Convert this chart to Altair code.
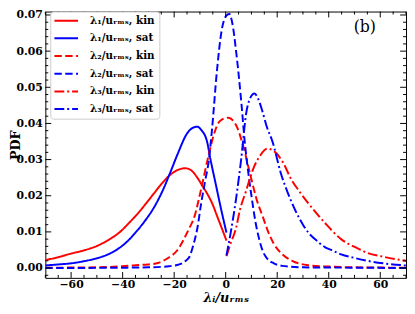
import altair as alt
import pandas as pd

# ---------------- data ----------------
SERIES = ["λ₁/uᵣₘₛ, kin", "λ₁/uᵣₘₛ, sat", "λ₂/uᵣₘₛ, kin",
          "λ₂/uᵣₘₛ, sat", "λ₃/uᵣₘₛ, kin", "λ₃/uᵣₘₛ, sat"]

L1_KIN_X = [-70, -65, -60, -55, -50, -45, -41, -37.5, -34, -31, -28, -25, -22, -19,
            -15.6, -13, -11, -9, -7.2, -5, -3.4, -1.5, 0.3]
L1_KIN_Y = [0.0022, 0.0030, 0.0040, 0.0049, 0.0061, 0.0080, 0.0100, 0.0125, 0.0152,
            0.0178, 0.0205, 0.0232, 0.0255, 0.0270, 0.0276, 0.0268, 0.0250, 0.0227,
            0.0206, 0.0175, 0.0145, 0.0110, 0.0076]

L1_SAT_X = [-70, -65, -60, -55, -50, -45, -41, -38, -35.4, -31.6, -27.8, -24.6, -21.3,
            -18.5, -15, -13, -11, -9.5, -7.2, -6, -4, -2, 0.3]
L1_SAT_Y = [0.0007, 0.0010, 0.0013, 0.0019, 0.0027, 0.0040, 0.0057, 0.0075, 0.0095,
            0.0128, 0.0168, 0.0212, 0.0268, 0.0318, 0.0372, 0.0387, 0.0391, 0.0382,
            0.0349, 0.0304, 0.0237, 0.0170, 0.0098]

L2_KIN_X = [-70, -50, -40, -35, -30, -26.3, -22.5, -18.7, -14.5, -12, -9.8, -6.6, -4.7,
            -2.2, 1, 4.2, 6.7, 10, 12, 14.5, 16.5, 18.7, 22, 25.8, 32, 40, 50, 70]
L2_KIN_Y = [0.0001, 0.0002, 0.0005, 0.0008, 0.0010, 0.0014, 0.0027, 0.0050, 0.0105,
            0.0145, 0.0210, 0.0313, 0.0367, 0.0407, 0.0416, 0.0393, 0.0340, 0.0245,
            0.0190, 0.0140, 0.0100, 0.0067, 0.0038, 0.0020, 0.0008, 0.0004, 0.0002,
            0.0001]

L2_SAT_X = [-70, -40, -30, -22, -18, -15.5, -14, -12.5, -11, -9.5, -8, -6.6, -5.3, -3.4,
            -1.5, 0.5, 1.4, 2.5, 4.2, 6.1, 7.4, 8.5, 10, 11.5, 13, 14.5, 16, 18.7, 22,
            30, 50, 70]
L2_SAT_Y = [0.0, 0.0001, 0.0002, 0.0005, 0.0010, 0.0020, 0.0032, 0.0065, 0.0110, 0.0180,
            0.0240, 0.0295, 0.0384, 0.0545, 0.0660, 0.0700, 0.0703, 0.0680, 0.0590,
            0.0456, 0.0349, 0.0280, 0.0200, 0.0130, 0.0080, 0.0045, 0.0027, 0.0013,
            0.0006, 0.0002, 0.0001, 0.0]

L3_KIN_X = [0.3, 2, 4, 5.5, 8, 9.5, 11, 13.1, 16.2, 19, 22, 25.8, 28.3, 32.1, 38.5,
            44.8, 51, 55, 61.3, 70]
L3_KIN_Y = [0.0033, 0.0070, 0.0110, 0.0160, 0.0215, 0.0250, 0.0280, 0.0308, 0.0330,
            0.0322, 0.0295, 0.0241, 0.0215, 0.0179, 0.0125, 0.0080, 0.0055, 0.0042,
            0.0031, 0.0020]

L3_SAT_X = [0.3, 2, 4, 6, 8, 9.5, 11.2, 12.5, 14.4, 16, 18.2, 21.5, 24, 27, 30, 32.1,
            35, 38.5, 41, 44.8, 50, 55, 61.3, 70]
L3_SAT_Y = [0.0035, 0.0100, 0.0190, 0.0300, 0.0430, 0.0470, 0.0483, 0.0470, 0.0430,
            0.0390, 0.0349, 0.0260, 0.0210, 0.0160, 0.0120, 0.0098, 0.0078, 0.0058,
            0.0050, 0.0038, 0.0028, 0.0020, 0.0013, 0.0007]

X_MAJOR = [-60, -40, -20, 0, 20, 40, 60]
X_MINOR = [-70, -65, -55, -50, -45, -35, -30, -25, -15, -10, -5,
           5, 10, 15, 25, 30, 35, 45, 50, 55, 65, 70]
Y_MAJOR = [0.0, 0.01, 0.02, 0.03, 0.04, 0.05, 0.06, 0.07]
Y_MINOR = [-0.002, 0.002, 0.004, 0.006, 0.008, 0.012, 0.014, 0.016, 0.018,
           0.022, 0.024, 0.026, 0.028, 0.032, 0.034, 0.036, 0.038,
           0.042, 0.044, 0.046, 0.048, 0.052, 0.054, 0.056, 0.058,
           0.062, 0.064, 0.066, 0.068]

PANEL_LABEL = ["(b)"]
PANEL_LABEL_X = [54]
PANEL_LABEL_Y = [0.0667]

# ---------------- styling ----------------
COLORS = ["#ff0000", "#0000ff", "#ff0000", "#0000ff", "#ff0000", "#0000ff"]
DASHES = [[1, 0], [1, 0], [7.5, 3.5], [7.5, 3.5], [10, 3, 2, 3], [10, 3, 2, 3]]
FONT = "DejaVu Serif"
W, H = 367, 271
X_DOMAIN = [-70, 70]
Y_DOMAIN = [-0.00272, 0.07095]

xs = [L1_KIN_X, L1_SAT_X, L2_KIN_X, L2_SAT_X, L3_KIN_X, L3_SAT_X]
ys = [L1_KIN_Y, L1_SAT_Y, L2_KIN_Y, L2_SAT_Y, L3_KIN_Y, L3_SAT_Y]
rows = []
for name, xv, yv in zip(SERIES, xs, ys):
    for a, b in zip(xv, yv):
        rows.append({"series": name, "x": a, "y": b})
df = pd.DataFrame(rows)

xscale = alt.Scale(domain=X_DOMAIN, nice=False, zero=False)
yscale = alt.Scale(domain=Y_DOMAIN, nice=False, zero=False)

xaxis = alt.Axis(
    values=X_MAJOR, format="d", title="λᵢ/uᵣₘₛ", domain=False, ticks=False,
    grid=False, labelFont=FONT, labelFontSize=11, labelFontWeight="bold",
    labelColor="black", labelPadding=1, titleFont=FONT, titleFontSize=13,
    titleFontWeight="bold", titleFontStyle="italic", titleColor="black",
    titleBaseline="alphabetic", titleY=24)
yaxis = alt.Axis(
    values=Y_MAJOR, format=".2f", title="PDF", domain=False, ticks=False,
    grid=False, labelFont=FONT, labelFontSize=11, labelFontWeight="bold",
    labelColor="black", labelPadding=3, titleFont=FONT, titleFontSize=13,
    titleFontWeight="bold", titleColor="black", titleAngle=270,
    titleBaseline="alphabetic", titleAlign="center", titleX=-26, titleY=H / 2)

legend = alt.Legend(
    title=None, orient="none", legendX=5, legendY=0,
    symbolType="M-3,0H3", symbolSize=64, symbolStrokeWidth=2,
    symbolOffset=7, labelOffset=19, padding=4, rowPadding=7,
    fillColor="white", strokeColor="#cccccc", cornerRadius=3,
    labelFont=FONT, labelFontSize=10.5, labelFontWeight="bold",
    labelColor="black", labelLimit=0,
)

XE = dict(scale=xscale, axis=xaxis, title="λᵢ/uᵣₘₛ")
YE = dict(scale=yscale, axis=yaxis, title="PDF")

lines = alt.Chart(df).mark_line(strokeWidth=2, clip=True, interpolate="monotone").encode(
    x=alt.X("x:Q", **XE),
    y=alt.Y("y:Q", **YE),
    color=alt.Color("series:N", sort=SERIES,
                    scale=alt.Scale(domain=SERIES, range=COLORS), legend=legend),
    strokeDash=alt.StrokeDash("series:N", sort=SERIES,
                              scale=alt.Scale(domain=SERIES, range=DASHES), legend=legend),
)


def xticks(vals, length):
    d = pd.DataFrame({"x": vals})
    bottom = alt.Chart(d).mark_rule(color="black", strokeWidth=1).encode(
        x=alt.X("x:Q", **XE), y=alt.value(H), y2=alt.value(H - length))
    top = alt.Chart(d).mark_rule(color="black", strokeWidth=1).encode(
        x=alt.X("x:Q", **XE), y=alt.value(0), y2=alt.value(length))
    return [bottom, top]


def yticks(vals, length):
    d = pd.DataFrame({"y": vals})
    left = alt.Chart(d).mark_rule(color="black", strokeWidth=1).encode(
        y=alt.Y("y:Q", **YE), x=alt.value(0), x2=alt.value(length))
    right = alt.Chart(d).mark_rule(color="black", strokeWidth=1).encode(
        y=alt.Y("y:Q", **YE), x=alt.value(W), x2=alt.value(W - length))
    return [left, right]


label = alt.Chart(pd.DataFrame({"x": PANEL_LABEL_X, "y": PANEL_LABEL_Y, "t": PANEL_LABEL})).mark_text(
    font=FONT, fontSize=16, color="black").encode(
    x=alt.X("x:Q", **XE), y=alt.Y("y:Q", **YE), text="t:N")

layers = [lines] + xticks(X_MAJOR, 6) + xticks(X_MINOR, 3) + yticks(Y_MAJOR, 6) + yticks(Y_MINOR, 3) + [label]

chart = alt.layer(*layers).properties(
    width=W, height=H,
    padding={"left": 38, "top": 1, "right": 1, "bottom": 26},
    autosize=alt.AutoSizeParams(type="none"),
    background="white",
).configure_view(stroke="black", strokeWidth=1)

chart.save("out.html", embed_options={"renderer": "svg", "actions": False})
